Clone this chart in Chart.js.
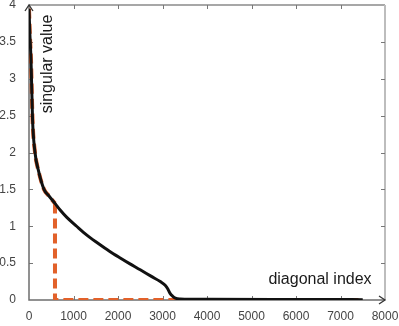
<!DOCTYPE html>
<html><head><meta charset="utf-8">
<script src="https://cdn.jsdelivr.net/npm/chart.js@4/dist/chart.umd.min.js"></script>
<style>html,body{margin:0;padding:0;background:#fff;}canvas{display:block;}</style>
</head><body>
<canvas id="c" width="399" height="326"></canvas>
<script>
// diagonal index (x) and singular value (y)
const diagIndex = [0, 20, 45, 80, 135, 210, 337, 450, 584, 700, 850, 1070, 1300, 1550, 1800, 2050, 2270, 2500, 2750, 2950, 3060, 3120, 3170, 3230, 3290, 3400, 4000, 5500, 7500];
const singularValues = [3.95, 3.6, 3.26, 2.44, 2.0, 1.76, 1.5, 1.41, 1.31, 1.22, 1.12, 1.0, 0.88, 0.77, 0.665, 0.57, 0.49, 0.41, 0.32, 0.25, 0.2, 0.15, 0.09, 0.05, 0.025, 0.015, 0.01, 0.007, 0.005];
const cutIndex = 584;      // truncation index
const cutValue = 1.31;
const lastIndex = 7500;
const xTicks = [0, 1000, 2000, 3000, 4000, 5000, 6000, 7000, 8000];
const yTicks = [0, 0.5, 1, 1.5, 2, 2.5, 3, 3.5, 4];
const xLabel = 'diagonal index';
const yLabel = 'singular value';

const curve = diagIndex.map((x, i) => ({x, y: singularValues[i]}));
const truncCurve = curve.filter(p => p.x <= cutIndex);
const truncDrop = [{x: cutIndex, y: cutValue}, {x: cutIndex, y: 0}, {x: lastIndex, y: 0}];

const ORANGE = '#E2612A';
const FONT = '"Liberation Sans", Arial, sans-serif';

const decor = {
  id: 'decor',
  beforeDatasetsDraw(chart) {
    const {ctx, chartArea: a, scales: {x, y}} = chart;
    ctx.save();
    ctx.lineWidth = 1.5;
    ctx.strokeStyle = '#8a8a8a';
    ctx.beginPath(); ctx.moveTo(a.left, a.top); ctx.lineTo(a.right, a.top); ctx.stroke();
    ctx.strokeStyle = '#bdbdbd'; ctx.lineWidth = 2;
    ctx.beginPath(); ctx.moveTo(a.right, a.top); ctx.lineTo(a.right, a.bottom); ctx.stroke();
    ctx.lineWidth = 1; ctx.strokeStyle = '#777';
    xTicks.forEach(v => {
      if (v === 0 || v === 8000) return;
      const px = Math.round(x.getPixelForValue(v)) + 0.5;
      ctx.beginPath(); ctx.moveTo(px, a.bottom); ctx.lineTo(px, a.bottom - 4); ctx.stroke();
      ctx.beginPath(); ctx.moveTo(px, a.top); ctx.lineTo(px, a.top + 4); ctx.stroke();
    });
    yTicks.forEach(v => {
      if (v === 0 || v === 4) return;
      const py = Math.round(y.getPixelForValue(v)) + 0.5;
      ctx.beginPath(); ctx.moveTo(a.left, py); ctx.lineTo(a.left + 4, py); ctx.stroke();
      ctx.beginPath(); ctx.moveTo(a.right, py); ctx.lineTo(a.right - 4, py); ctx.stroke();
    });
    ctx.strokeStyle = '#6e6e6e'; ctx.lineWidth = 1.5;
    ctx.beginPath(); ctx.moveTo(a.left, a.top); ctx.lineTo(a.left, a.bottom); ctx.lineTo(a.right, a.bottom); ctx.stroke();
    ctx.restore();
  },
  afterDatasetsDraw(chart) {
    const {ctx, chartArea: a} = chart;
    ctx.save();
    ctx.strokeStyle = '#333'; ctx.lineWidth = 1.3;
    ctx.beginPath(); ctx.moveTo(a.left - 4, a.top + 6); ctx.lineTo(a.left, a.top); ctx.lineTo(a.left + 4, a.top + 6); ctx.stroke();
    ctx.beginPath(); ctx.moveTo(a.right - 6, a.bottom - 4); ctx.lineTo(a.right, a.bottom); ctx.lineTo(a.right - 6, a.bottom + 4); ctx.stroke();
    ctx.fillStyle = '#1a1a1a';
    ctx.font = '16px ' + FONT;
    ctx.textAlign = 'center'; ctx.textBaseline = 'middle';
    ctx.fillText(xLabel, 320, 280);
    ctx.translate(48, 64); ctx.rotate(-Math.PI / 2);
    ctx.fillText(yLabel, 0, 0);
    ctx.restore();
  }
};

new Chart(document.getElementById('c'), {
  type: 'scatter',
  data: {
    datasets: [
      {data: truncCurve, showLine: true, borderColor: ORANGE, borderWidth: 4, borderDash: [10, 5], pointRadius: 0, cubicInterpolationMode: 'monotone', order: 3},
      {data: truncDrop, showLine: true, borderColor: ORANGE, borderWidth: 4, borderDash: [10, 5], pointRadius: 0, tension: 0, order: 2},
      {data: curve, showLine: true, borderColor: '#111', borderWidth: 3, pointRadius: 0, cubicInterpolationMode: 'monotone', order: 1}
    ]
  },
  options: {
    responsive: false, animation: false, devicePixelRatio: 1,
    layout: {padding: {top: 5, right: 14, left: 0, bottom: 0}},
    plugins: {legend: {display: false}, tooltip: {enabled: false}},
    scales: {
      x: {
        type: 'linear', min: 0, max: 8000,
        afterBuildTicks: s => { s.ticks = xTicks.map(v => ({value: v})); },
        afterFit: s => { s.height = 26; s.paddingLeft = 0; s.paddingRight = 0; },
        grid: {display: false, drawTicks: false},
        border: {display: false},
        ticks: {padding: 9, color: '#444', font: {size: 12, family: FONT}, maxRotation: 0, autoSkip: false, callback: v => String(v)}
      },
      y: {
        type: 'linear', min: 0, max: 4,
        afterBuildTicks: s => { s.ticks = yTicks.map(v => ({value: v})); },
        afterFit: s => { s.width = 29; s.paddingTop = 0; s.paddingBottom = 0; },
        grid: {display: false, drawTicks: false},
        border: {display: false},
        ticks: {padding: 13, color: '#444', font: {size: 12, family: FONT}, autoSkip: false, callback: v => String(v)}
      }
    }
  },
  plugins: [decor]
});
</script>
</body></html>
